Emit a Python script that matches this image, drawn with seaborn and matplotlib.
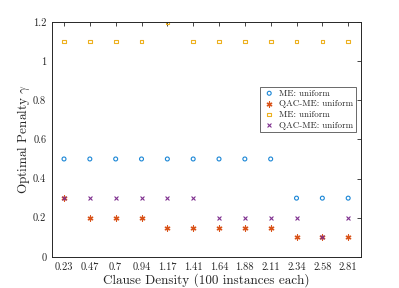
import matplotlib
matplotlib.use("Agg")
import matplotlib.pyplot as plt
import seaborn as sns
import pandas as pd
import numpy as np

density = ["0.23", "0.47", "0.7", "0.94", "1.17", "1.41", "1.64", "1.88", "2.11", "2.34", "2.58", "2.81"]
me_uniform_a = [0.5, 0.5, 0.5, 0.5, 0.5, 0.5, 0.5, 0.5, 0.5, 0.3, 0.3, 0.3]
qac_uniform_a = [0.3, 0.2, 0.2, 0.2, 0.15, 0.15, 0.15, 0.15, 0.15, 0.1, 0.1, 0.1]
me_uniform_b = [1.1, 1.1, 1.1, 1.1, 1.2, 1.1, 1.1, 1.1, 1.1, 1.1, 1.1, 1.1]
qac_uniform_b = [0.3, 0.3, 0.3, 0.3, 0.3, 0.3, 0.2, 0.2, 0.2, 0.2, 0.1, 0.2]
yticks = [0, 0.2, 0.4, 0.6, 0.8, 1, 1.2]
ytick_labels = ["0", "0.2", "0.4", "0.6", "0.8", "1", "1.2"]

sns.set_style("white")
plt.rcParams["font.family"] = ["serif"]
plt.rcParams["font.serif"] = ["cmr10", "DejaVu Serif"]
plt.rcParams["mathtext.fontset"] = "cm"
plt.rcParams["axes.unicode_minus"] = False

fig = plt.figure(figsize=(3.99, 2.88), dpi=100)
ax = fig.add_axes([0.130, 0.108, 0.775, 0.816])

pos = np.arange(len(density))
df = pd.DataFrame({"x": pos, "a": me_uniform_a, "b": qac_uniform_a,
                   "c": me_uniform_b, "d": qac_uniform_b})

sns.scatterplot(data=df, x="x", y="a", ax=ax, marker="o", s=8,
                facecolor="none", edgecolor="#1a86d6", linewidth=0.8,
                label="ME: uniform")
sns.scatterplot(data=df, x="x", y="b", ax=ax, marker=(6, 2, 0), s=13,
                color="#D95319", edgecolor="#D95319", linewidth=0.9,
                label="QAC-ME: uniform")
sns.scatterplot(data=df, x="x", y="c", ax=ax, marker="s", s=7,
                facecolor="none", edgecolor="#EDB120", linewidth=0.8,
                label="ME: uniform")
sns.scatterplot(data=df, x="x", y="d", ax=ax, marker="x", s=8,
                color="#7E2F8E", linewidth=0.8,
                label="QAC-ME: uniform")

ax.set_xlim(-0.47, 11.5)
ax.set_ylim(0, 1.2)
ax.set_xticks(pos)
ax.set_xticklabels(density)
ax.set_yticks(yticks)
ax.set_yticklabels(ytick_labels)
ax.tick_params(direction="in", length=3, width=0.6, labelsize=7.5,
               colors="#262626", top=True, right=True, pad=4)
for s in ax.spines.values():
    s.set_visible(True)
    s.set_color("#262626")
    s.set_linewidth(0.7)

ax.set_xlabel("Clause Density (100 instances each)", fontsize=9.5, color="#262626", labelpad=1)
ax.set_ylabel(r"Optimal Penalty $\gamma$", fontsize=9.5, color="#262626", labelpad=0.5)

leg = ax.legend(loc="upper right", bbox_to_anchor=(0.982, 0.725), fontsize=6.5,
                frameon=True, fancybox=False, edgecolor="#262626",
                handletextpad=0.3, borderpad=0.3, labelspacing=0.25,
                handlelength=1.5, borderaxespad=0)
leg.get_frame().set_linewidth(0.6)

fig.savefig("out.png", dpi=100)
